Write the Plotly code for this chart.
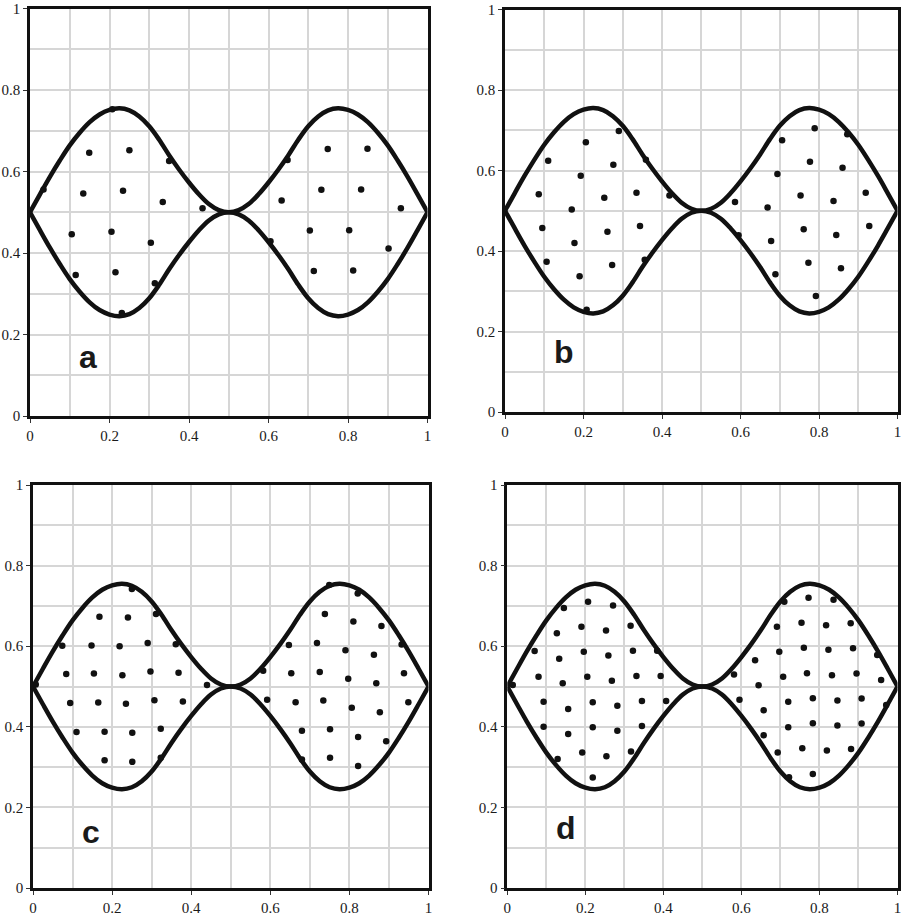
import plotly.graph_objects as go

# Boundary profile: half-width of the region above/below y = 0.5, for x in [0, 0.5].
# The second lobe (x in [0.5, 1]) is the mirror image.
profile_x = [0.0, 0.025, 0.05, 0.075, 0.1, 0.125, 0.15, 0.175, 0.2, 0.225,
             0.25, 0.275, 0.3, 0.325, 0.35, 0.375, 0.4, 0.425, 0.45, 0.475, 0.5]
profile_h = [0.0, 0.044, 0.087, 0.127, 0.164, 0.195, 0.221, 0.240, 0.251, 0.255,
             0.250, 0.235, 0.211, 0.178, 0.140, 0.105, 0.073, 0.044, 0.020, 0.005, 0.0]

# Sample points in each panel
a_x = [0.034, 0.149, 0.250, 0.350, 0.134, 0.234, 0.334, 0.434, 0.648, 0.749,
       0.849, 0.633, 0.733, 0.833, 0.933, 0.207, 0.105, 0.205, 0.304, 0.115,
       0.215, 0.314, 0.231, 0.605, 0.704, 0.803, 0.902, 0.714, 0.813]
a_y = [0.556, 0.646, 0.652, 0.626, 0.546, 0.553, 0.525, 0.510, 0.628, 0.655,
       0.656, 0.529, 0.555, 0.556, 0.510, 0.753, 0.446, 0.452, 0.425, 0.346,
       0.353, 0.326, 0.253, 0.429, 0.455, 0.456, 0.411, 0.356, 0.357]

b_x = [0.086, 0.110, 0.206, 0.193, 0.170, 0.253, 0.276, 0.290, 0.335, 0.359,
       0.419, 0.586, 0.669, 0.694, 0.706, 0.753, 0.777, 0.789, 0.837, 0.860,
       0.872, 0.919, 0.095, 0.106, 0.177, 0.190, 0.208, 0.261, 0.273, 0.344,
       0.356, 0.595, 0.678, 0.689, 0.761, 0.773, 0.792, 0.844, 0.856, 0.928]
b_y = [0.541, 0.624, 0.670, 0.587, 0.503, 0.532, 0.614, 0.698, 0.545, 0.627,
       0.538, 0.522, 0.508, 0.591, 0.675, 0.538, 0.622, 0.705, 0.524, 0.607,
       0.690, 0.545, 0.457, 0.373, 0.420, 0.337, 0.254, 0.448, 0.365, 0.462,
       0.378, 0.439, 0.425, 0.342, 0.454, 0.371, 0.288, 0.440, 0.357, 0.462]

c_x = [0.074, 0.084, 0.168, 0.148, 0.154, 0.240, 0.219, 0.226, 0.250, 0.311,
       0.290, 0.297, 0.361, 0.368, 0.440, 0.007, 0.582, 0.647, 0.653, 0.718,
       0.725, 0.738, 0.749, 0.790, 0.797, 0.810, 0.821, 0.862, 0.868, 0.881,
       0.932, 0.938, 0.094, 0.110, 0.165, 0.181, 0.181, 0.235, 0.251, 0.251,
       0.307, 0.323, 0.323, 0.379, 0.592, 0.664, 0.680, 0.680, 0.734, 0.751,
       0.751, 0.806, 0.822, 0.822, 0.877, 0.893, 0.949]
c_y = [0.601, 0.531, 0.673, 0.602, 0.532, 0.671, 0.600, 0.528, 0.742, 0.680,
       0.608, 0.537, 0.605, 0.534, 0.504, 0.505, 0.539, 0.603, 0.533, 0.608,
       0.536, 0.680, 0.752, 0.590, 0.519, 0.661, 0.731, 0.579, 0.508, 0.650,
       0.604, 0.533, 0.459, 0.387, 0.460, 0.388, 0.317, 0.457, 0.385, 0.313,
       0.466, 0.395, 0.323, 0.463, 0.467, 0.461, 0.390, 0.319, 0.465, 0.394,
       0.323, 0.447, 0.375, 0.303, 0.436, 0.364, 0.461]

d_x = [0.014, 0.070, 0.080, 0.145, 0.127, 0.133, 0.142, 0.207, 0.190, 0.196,
       0.205, 0.271, 0.253, 0.259, 0.268, 0.316, 0.322, 0.331, 0.384, 0.393,
       0.581, 0.635, 0.644, 0.691, 0.697, 0.707, 0.710, 0.754, 0.760, 0.768,
       0.772, 0.817, 0.823, 0.832, 0.836, 0.880, 0.886, 0.895, 0.948, 0.958,
       0.093, 0.093, 0.129, 0.156, 0.156, 0.192, 0.219, 0.219, 0.219, 0.282,
       0.282, 0.254, 0.317, 0.345, 0.345, 0.407, 0.595, 0.657, 0.657, 0.693,
       0.720, 0.720, 0.722, 0.756, 0.783, 0.783, 0.783, 0.819, 0.846, 0.846,
       0.881, 0.908, 0.908, 0.971]
d_y = [0.504, 0.588, 0.524, 0.695, 0.632, 0.569, 0.508, 0.710, 0.648, 0.586,
       0.524, 0.701, 0.639, 0.577, 0.514, 0.651, 0.589, 0.526, 0.589, 0.526,
       0.530, 0.565, 0.503, 0.648, 0.586, 0.524, 0.710, 0.658, 0.596, 0.533,
       0.720, 0.652, 0.591, 0.528, 0.715, 0.657, 0.595, 0.532, 0.578, 0.516,
       0.462, 0.400, 0.320, 0.444, 0.382, 0.336, 0.461, 0.399, 0.274, 0.452,
       0.390, 0.327, 0.339, 0.464, 0.402, 0.464, 0.467, 0.441, 0.379, 0.336,
       0.462, 0.399, 0.275, 0.347, 0.471, 0.409, 0.283, 0.341, 0.465, 0.403,
       0.345, 0.470, 0.408, 0.454]

panels = [("a", a_x, a_y), ("b", b_x, b_y), ("c", c_x, c_y), ("d", d_x, d_y)]

tick_vals = [0, 0.2, 0.4, 0.6, 0.8, 1]
tick_text = ["0", "0.2", "0.4", "0.6", "0.8", "1"]

# Plot-area boxes in pixels (left, right, top, bottom) for a 902x915 page
W, H = 902, 915
boxes = [(30, 427.5, 8.5, 416), (505, 897.5, 9.5, 412),
         (33, 428.5, 485, 888), (507.3, 897.5, 485, 888)]
letter_pos = [(0.146, 0.145), (0.150, 0.150), (0.147, 0.140), (0.150, 0.1495)]

# Full boundary curves over [0, 1]
full_x = profile_x + [1 - v for v in reversed(profile_x[:-1])]
full_h = profile_h + list(reversed(profile_h[:-1]))
upper = [0.5 + h for h in full_h]
lower = [0.5 - h for h in full_h]

tick_font = dict(family="Liberation Serif", size=15, color="#1a1a1a")

fig = go.Figure()
layout = dict(template="none", width=W, height=H, margin=dict(l=0, r=0, t=0, b=0),
              paper_bgcolor="white", plot_bgcolor="white", showlegend=False,
              font=tick_font, annotations=[])

for i, (name, px, py) in enumerate(panels):
    k = "" if i == 0 else str(i + 1)
    xa, ya = "x" + k, "y" + k
    for curve in (upper, lower):
        fig.add_trace(go.Scatter(x=full_x, y=curve, mode="lines",
                                 line=dict(color="#111111", width=4.5, shape="spline"),
                                 xaxis=xa, yaxis=ya, hoverinfo="skip"))
    fig.add_trace(go.Scatter(x=px, y=py, mode="markers",
                             marker=dict(color="#111111", size=6.5),
                             xaxis=xa, yaxis=ya))
    l, r, t, b = boxes[i]
    for axname, dom, anch in (("xaxis" + k, [l / W, r / W], ya),
                              ("yaxis" + k, [1 - b / H, 1 - t / H], xa)):
        layout[axname] = dict(
            range=[0, 1], domain=dom, anchor=anch, automargin=False,
            ticklabeloverflow="allow",
            tickmode="array", tickvals=tick_vals, ticktext=tick_text,
            tickfont=dict(tick_font),
            showgrid=True, gridcolor="#d6d6d6", gridwidth=1.5,
            minor=dict(dtick=0.1, showgrid=True, gridcolor="#d6d6d6", gridwidth=1.5),
            showline=True, linecolor="#111111", linewidth=2.5, mirror=True,
            ticks="outside", ticklen=4, tickwidth=1, tickcolor="#333333",
            zeroline=False, fixedrange=True)
    lx, ly = letter_pos[i]
    layout["annotations"].append(dict(
        x=lx, y=ly, xref=xa, yref=ya, text="<b>" + name + "</b>", showarrow=False,
        xanchor="center", yanchor="middle",
        font=dict(family="Liberation Sans", size=32, color="#1a1a1a")))

fig.update_layout(**layout)
fig.write_html("out.html")
